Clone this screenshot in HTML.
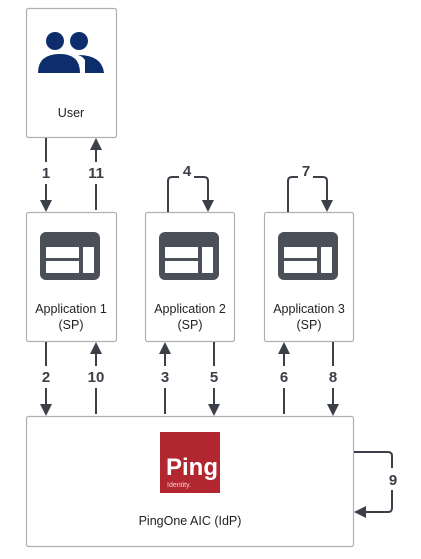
<!DOCTYPE html>
<html><head><style>
body{margin:0;background:#fff;width:421px;height:559px;overflow:hidden}
svg{display:block}
text{font-family:"Liberation Sans",Arial,sans-serif}
</style></head><body>
<svg width="421" height="559" viewBox="0 0 421 559">
<defs>
<g id="app">
<rect x="0" y="0" width="60" height="48" rx="6" fill="#4a4f58"/>
<rect x="6" y="15" width="33" height="11" fill="#fff"/>
<rect x="6" y="29" width="33" height="12" fill="#fff"/>
<rect x="43" y="15" width="11" height="26" fill="#fff"/>
</g>
</defs>
<g fill="#fff" stroke="#b0b0b0" stroke-width="1.2">
<rect x="26.5" y="8.5" width="90" height="129" rx="2"/>
<rect x="26.5" y="212.5" width="90" height="129" rx="2"/>
<rect x="145.5" y="212.5" width="89" height="129" rx="2"/>
<rect x="264.5" y="212.5" width="89" height="129" rx="2"/>
<rect x="26.5" y="416.5" width="327" height="130" rx="2"/>
</g>
<g fill="#0d2d6c">
<circle cx="55" cy="41" r="9"/><circle cx="79" cy="41" r="9"/>
<path d="M38,73 Q38,54 60,54 Q80,54 80,73 z"/>
<path d="M85,73 L85,60 Q82,56 78,55 Q102,55 104,73 z"/>
</g>
<text x="71" y="117" font-size="12.5" text-anchor="middle" fill="#222">User</text>
<use href="#app" x="40" y="232"/>
<use href="#app" x="159" y="232"/>
<use href="#app" x="278" y="232"/>
<g font-size="12.5" text-anchor="middle" fill="#222">
<text x="71" y="313">Application 1</text><text x="71" y="329">(SP)</text>
<text x="190" y="313">Application 2</text><text x="190" y="329">(SP)</text>
<text x="309" y="313">Application 3</text><text x="309" y="329">(SP)</text>
<text x="190" y="525">PingOne AIC (IdP)</text>
</g>
<rect x="160" y="432" width="60" height="61" fill="#b1262f"/>
<text x="166" y="475" font-size="24" font-weight="bold" fill="#fff">Ping</text>
<text x="167" y="487" font-size="7" fill="#f3d0d2">Identity.</text>
<g stroke="#3b4048" stroke-width="2" fill="none">
<path d="M46,138 V162 M46,184 V204" />
<path d="M96,210 V184 M96,162 V146"/>
<path d="M46,342 V366 M46,388 V408"/>
<path d="M96,414 V388 M96,366 V350"/>
<path d="M165,414 V388 M165,366 V350"/>
<path d="M214,342 V366 M214,388 V408"/>
<path d="M284,414 V388 M284,366 V350"/>
<path d="M333,342 V366 M333,388 V408"/>
<path d="M168,212 V181 Q168,177 172,177 H179 M194,177 H204 Q208,177 208,181 V200"/>
<path d="M288,212 V181 Q288,177 292,177 H298 M313,177 H323 Q327,177 327,181 V200"/>
<path d="M354,452 H388 Q392,452 392,456 V468 M392,490 V508 Q392,512 388,512 H362"/>
</g>
<g fill="#3b4048">
<path d="M40,200 L52,200 L46,212 z"/>
<path d="M90,150 L102,150 L96,138 z"/>
<path d="M40,404 L52,404 L46,416 z"/>
<path d="M90,354 L102,354 L96,342 z"/>
<path d="M159,354 L171,354 L165,342 z"/>
<path d="M208,404 L220,404 L214,416 z"/>
<path d="M278,354 L290,354 L284,342 z"/>
<path d="M327,404 L339,404 L333,416 z"/>
<path d="M202,200 L214,200 L208,212 z"/>
<path d="M321,200 L333,200 L327,212 z"/>
<path d="M366,506 L366,518 L354,512 z"/>
</g>
<g font-size="15" font-weight="bold" text-anchor="middle" fill="#3b4048">
<text x="46" y="178">1</text><text x="96" y="178">11</text>
<text x="46" y="382">2</text><text x="96" y="382">10</text>
<text x="165" y="382">3</text><text x="214" y="382">5</text>
<text x="284" y="382">6</text><text x="333" y="382">8</text>
<text x="187" y="176">4</text><text x="306" y="176">7</text>
<text x="393" y="485">9</text>
</g>
</svg>
</body></html>
